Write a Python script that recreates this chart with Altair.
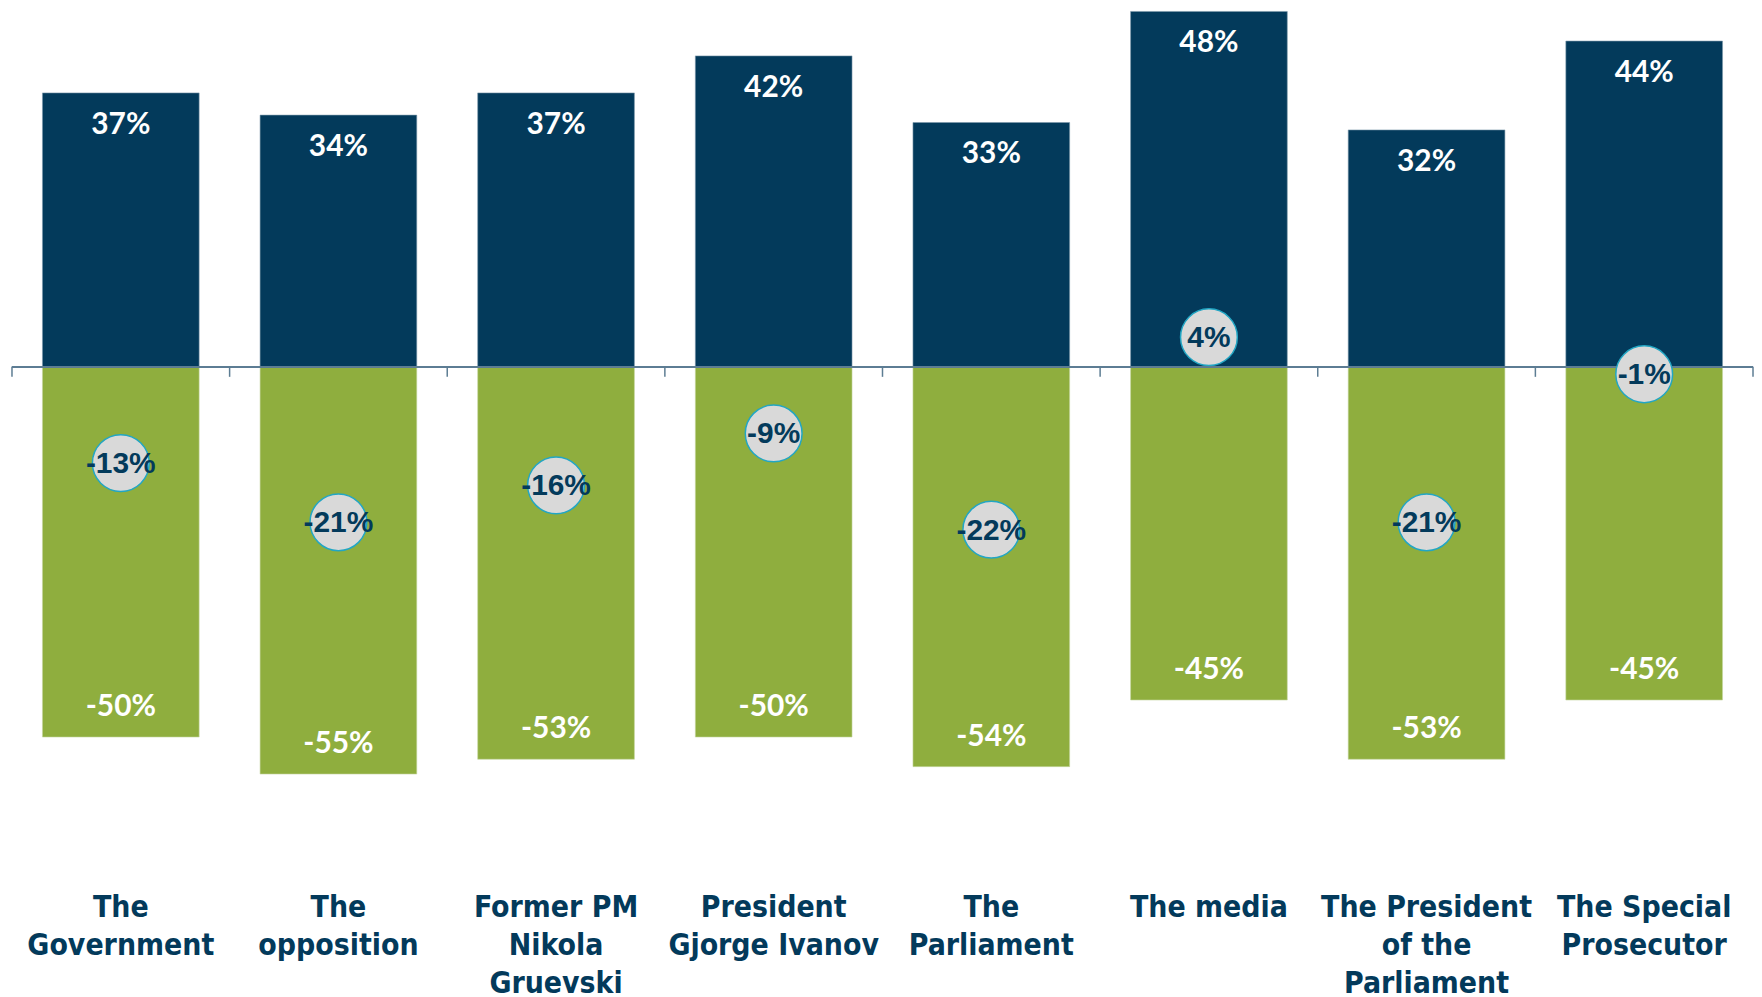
import altair as alt
import pandas as pd

categories = ["The Government", "The opposition", "Former PM Nikola Gruevski",
              "President Gjorge Ivanov", "The Parliament", "The media",
              "The President of the Parliament", "The Special Prosecutor"]
label_lines = [["The", "Government"], ["The", "opposition"], ["Former PM", "Nikola", "Gruevski"],
               ["President", "Gjorge Ivanov"], ["The", "Parliament"], ["The media"],
               ["The President", "of the", "Parliament"], ["The Special", "Prosecutor"]]
positive = [37, 34, 37, 42, 33, 48, 32, 44]
negative = [-50, -55, -53, -50, -54, -45, -53, -45]
net = [-13, -21, -16, -9, -22, 4, -21, -1]

NAVY = "#033a5b"
GREEN = "#8fae3e"
AXIS = "#5d7d93"

df = pd.DataFrame({"cat": categories, "pos": positive, "neg": negative, "net": net})
df["pos_l"] = df["pos"].astype(str) + "%"
df["neg_l"] = df["neg"].astype(str) + "%"
df["net_l"] = df["net"].astype(str) + "%"

W, H = 1748, 866
STEP = W / len(categories)
P = 0.28

expr = "''"
for c, lines in reversed(list(zip(categories, label_lines))):
    arr = "[" + ",".join("'" + l + "'" for l in lines) + "]"
    expr = f"datum.value == '{c}' ? {arr} : ({expr})"

xs = alt.Scale(domain=categories, paddingInner=P, paddingOuter=P / 2)
ys = alt.Scale(domain=[-68.3, 48.2], nice=False)

x = alt.X("cat:N", scale=xs, sort=categories, title=None,
          axis=alt.Axis(domain=False, ticks=False, labelAngle=0, labelPadding=20,
                        labelFont="DejaVu Sans Condensed", labelFontSize=30,
                        labelFontWeight="bold", labelColor=NAVY, labelLineHeight=38,
                        labelBaseline="top", labelLimit=400, labelExpr=expr))

base = alt.Chart(df)

pos_bar = base.mark_bar(color=NAVY, stroke="#7d98ab", strokeWidth=0.6).encode(
    x=x, y=alt.Y("pos:Q", scale=ys, axis=None), y2=alt.datum(0))
neg_bar = base.mark_bar(color=GREEN, stroke="#c6d6a0", strokeWidth=0.6).encode(
    x=x, y=alt.Y("neg:Q", scale=ys, axis=None), y2=alt.datum(0))

zero = base.mark_rule(color=AXIS, strokeWidth=1.5).encode(y=alt.datum(0))
ticks = base.mark_rule(color=AXIS, strokeWidth=1.5, xOffset=-STEP * P / 2).encode(
    x=alt.X("cat:N", scale=xs, sort=categories, bandPosition=0),
    y=alt.datum(0), y2=alt.datum(-1.35))
last_tick = base.transform_filter(alt.datum.cat == categories[-1]).mark_rule(
    color=AXIS, strokeWidth=1.5, xOffset=STEP * P / 2).encode(
    x=alt.X("cat:N", scale=xs, sort=categories, bandPosition=1),
    y=alt.datum(0), y2=alt.datum(-1.35))

pos_txt = base.mark_text(color="white", font="Lato", fontWeight="bold", fontSize=30,
                         baseline="middle", dy=32).encode(x=x, y=alt.Y("pos:Q", scale=ys), text="pos_l:N")
neg_txt = base.mark_text(color="white", font="Lato", fontWeight="bold", fontSize=30,
                         baseline="middle", dy=-30).encode(x=x, y=alt.Y("neg:Q", scale=ys), text="neg_l:N")

circ = base.mark_point(shape="circle", filled=True, size=3250, fill="#d9d9d9",
                       stroke="#22a6c4", strokeWidth=1.5, opacity=1).encode(
    x=x, y=alt.Y("net:Q", scale=ys))
net_txt = base.mark_text(color=NAVY, font="Liberation Sans", fontWeight="bold",
                         fontSize=30, baseline="middle", dy=1).encode(
    x=x, y=alt.Y("net:Q", scale=ys), text="net_l:N")

chart = alt.layer(pos_bar, neg_bar, zero, ticks, last_tick, pos_txt, neg_txt, circ, net_txt).properties(
    width=W, height=H, padding={"left": 3, "top": 0, "right": 0, "bottom": 0}
).configure(background="white", view=alt.ViewConfig(stroke=None))

chart.save("out.html", embed_options={"renderer": "svg", "actions": False})
